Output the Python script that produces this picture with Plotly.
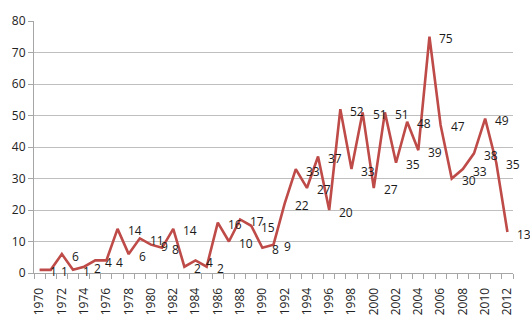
import plotly.graph_objects as go

years = list(range(1970, 2013))
values = [1, 1, 6, 1, 2, 4, 4, 14, 6, 11, 9, 8, 14, 2, 4, 2, 16, 10, 17, 15, 8, 9,
          22, 33, 27, 37, 20, 52, 33, 51, 27, 51, 35, 48, 39, 75, 47, 30, 33, 38, 49, 35, 13]
y_ticks = list(range(0, 81, 10))
x_tick_years = list(range(1970, 2013, 2))

line_color = "#BE4B48"
font_family = "Open Sans, Liberation Sans, sans-serif"

fig = go.Figure()
fig.add_trace(go.Scatter(x=years, y=values, mode="lines",
                         line=dict(color=line_color, width=2.6),
                         hoverinfo="skip", showlegend=False))

annotations = [dict(x=x, y=v, text=str(v), showarrow=False, xanchor="left",
                    yanchor="middle", xshift=8, yshift=-2,
                    font=dict(family=font_family, size=12, color="#1a1a1a"))
               for x, v in zip(years, values)]

fig.update_layout(
    width=530, height=327,
    margin=dict(l=32, r=17, t=16, b=54),
    paper_bgcolor="white", plot_bgcolor="white",
    font=dict(family=font_family, size=12, color="#222"),
    annotations=annotations,
    xaxis=dict(range=[1969.5, 2012.5], tickvals=x_tick_years,
               ticktext=[str(y) for y in x_tick_years], tickangle=-90,
               showgrid=False, zeroline=False, showline=True,
               linecolor="#A6A6A6", linewidth=1, ticks="",
               ticklabelstandoff=9,
               tickfont=dict(size=12),
               minor=dict(tick0=1969.5, dtick=1, ticks="outside", ticklen=5,
                          tickcolor="#A6A6A6", showgrid=False)),
    yaxis=dict(range=[0, 80], tickvals=y_ticks, showgrid=True,
               gridcolor="#BFBFBF", gridwidth=1, zeroline=False,
               showline=True, linecolor="#A6A6A6", linewidth=1,
               ticks="outside", ticklen=5, tickcolor="#A6A6A6",
               tickfont=dict(size=12)),
)

fig.write_html("out.html")
